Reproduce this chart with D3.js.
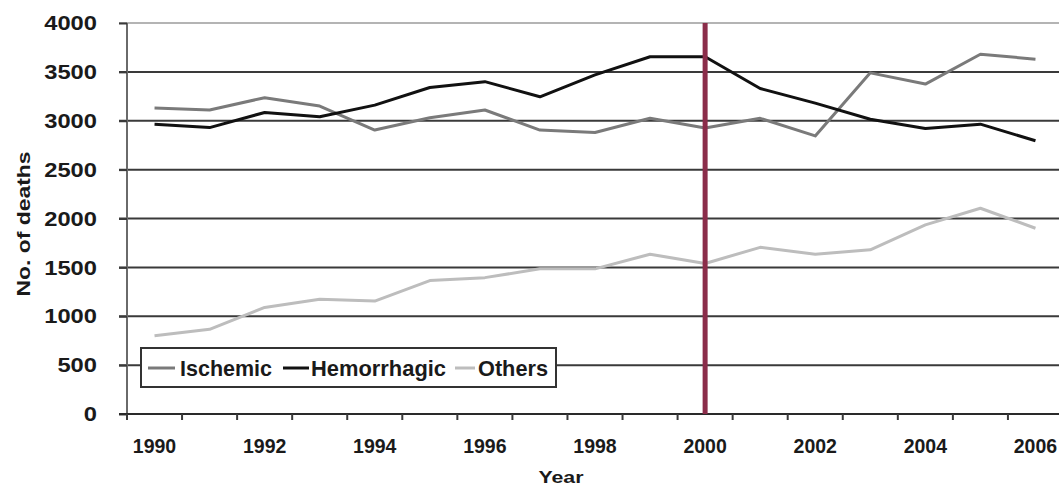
<!DOCTYPE html>
<html>
<head>
<meta charset="utf-8">
<script src="https://cdn.jsdelivr.net/npm/d3@7"></script>
<style>
  html, body { margin: 0; padding: 0; background: #fff; }
  svg { display: block; font-family: "Liberation Sans", Arial, sans-serif; font-weight: bold; }
</style>
</head>
<body>
<svg id="chart"></svg>
<script>
// data
var years = [1990, 1991, 1992, 1993, 1994, 1995, 1996, 1997, 1998, 1999, 2000, 2001, 2002, 2003, 2004, 2005, 2006];
var ischemic = [3130, 3110, 3236, 3150, 2905, 3030, 3110, 2905, 2880, 3025, 2925, 3025, 2845, 3490, 3375, 3680, 3630];
var hemorrhagic = [2965, 2930, 3085, 3040, 3160, 3340, 3400, 3245, 3470, 3655, 3655, 3330, 3180, 3015, 2920, 2965, 2795];
var others = [800, 866, 1090, 1175, 1155, 1365, 1395, 1485, 1485, 1635, 1540, 1705, 1635, 1680, 1935, 2105, 1900];
var yTicks = [0, 500, 1000, 1500, 2000, 2500, 3000, 3500, 4000];
var xLabels = [1990, 1992, 1994, 1996, 1998, 2000, 2002, 2004, 2006];
var markerYear = 2000;

var width = 1059;
var height = 485;

var svg = d3.select("#chart")
  .attr("width", width)
  .attr("height", height);

// plot area runs a little past the right edge (the source was cropped)
var x = d3.scaleBand()
  .domain(years)
  .range([127, 1063])
  .padding(0);

var y = d3.scaleLinear()
  .domain([0, 4000])
  .range([414, 23]);

// gridlines
svg.append("g")
  .selectAll("line")
  .data(yTicks.filter(function (d) { return d > 0; }))
  .enter()
  .append("line")
  .attr("x1", 119)
  .attr("x2", width)
  .attr("y1", function (d) { return y(d); })
  .attr("y2", function (d) { return y(d); })
  .attr("stroke", function (d) { return d == 4000 ? "#b4b4b4" : "#3a3a3a"; })
  .attr("stroke-width", 2);

// y axis
var yAxis = d3.axisLeft(y)
  .tickValues(yTicks)
  .tickFormat(d3.format("d"))
  .tickSize(8)
  .tickPadding(22);
var gy = svg.append("g")
  .attr("transform", "translate(127,0)")
  .call(yAxis);
gy.select(".domain").attr("stroke", "#6a6a6a").attr("stroke-width", 2)
  .attr("d", "M0," + y(4000) + "V" + (y(0) + 6));
gy.selectAll(".tick line").attr("stroke", "#3a3a3a").attr("stroke-width", 2);
// the source digits are a bit wider than the font, so stretch them
gy.selectAll(".tick text")
  .attr("fill", "#1a1a1a")
  .attr("textLength", function (d) { return String(d).length * 13.2; })
  .attr("lengthAdjust", "spacingAndGlyphs")
  .style("font-size", "21px")
  .style("font-weight", "bold")
  .style("font-family", "'Liberation Sans', Arial, sans-serif");

// x axis: baseline, boundary ticks, labels at the band centres
var gx = svg.append("g");
gx.append("line")
  .attr("x1", 119)
  .attr("x2", width)
  .attr("y1", y(0))
  .attr("y2", y(0))
  .attr("stroke", "#2a2a2a")
  .attr("stroke-width", 2);
var bounds = years.map(function (d) { return x(d); }).concat([x.range()[1]]);
gx.selectAll(".xtick")
  .data(bounds)
  .enter()
  .append("line")
  .attr("class", "xtick")
  .attr("x1", function (d) { return d; })
  .attr("x2", function (d) { return d; })
  .attr("y1", y(0))
  .attr("y2", y(0) + 6)
  .attr("stroke", "#3a3a3a")
  .attr("stroke-width", 2);
gx.selectAll(".xlabel")
  .data(xLabels)
  .enter()
  .append("text")
  .attr("class", "xlabel")
  .attr("x", function (d) { return x(d) + x.bandwidth() / 2; })
  .attr("y", 453)
  .attr("text-anchor", "middle")
  .attr("fill", "#1a1a1a")
  .style("font-size", "19.5px")
  .text(function (d) { return d; });

// axis titles
svg.append("text")
  .attr("transform", "translate(30,224) rotate(-90)")
  .attr("text-anchor", "middle")
  .attr("fill", "#1a1a1a")
  .attr("textLength", 145)
  .attr("lengthAdjust", "spacingAndGlyphs")
  .style("font-size", "19px")
  .text("No. of deaths");

svg.append("text")
  .attr("x", 561)
  .attr("y", 483)
  .attr("text-anchor", "middle")
  .attr("fill", "#1a1a1a")
  .attr("textLength", 45)
  .attr("lengthAdjust", "spacingAndGlyphs")
  .style("font-size", "16px")
  .text("Year");

// series lines
var series = [
  { name: "Ischemic", values: ischemic, color: "#7a7a7a" },
  { name: "Hemorrhagic", values: hemorrhagic, color: "#111111" },
  { name: "Others", values: others, color: "#bdbdbd" }
];

var line = d3.line()
  .x(function (d, i) { return x(years[i]) + x.bandwidth() / 2; })
  .y(function (d) { return y(d); });

svg.append("g")
  .selectAll("path")
  .data(series)
  .enter()
  .append("path")
  .attr("d", function (d) { return line(d.values); })
  .attr("fill", "none")
  .attr("stroke", function (d) { return d.color; })
  .attr("stroke-width", 3)
  .attr("stroke-linejoin", "round");

// marker line at 2000
svg.append("line")
  .attr("x1", x(markerYear) + x.bandwidth() / 2)
  .attr("x2", x(markerYear) + x.bandwidth() / 2)
  .attr("y1", y(4000))
  .attr("y2", y(0))
  .attr("stroke", "#8b2d4a")
  .attr("stroke-width", 5);

// legend
var lg = svg.append("g");
lg.append("rect")
  .attr("x", 141)
  .attr("y", 348)
  .attr("width", 415)
  .attr("height", 39)
  .attr("fill", "#fff")
  .attr("stroke", "#333")
  .attr("stroke-width", 2);

var legendPos = [
  { x1: 148, x2: 175, tx: 180, len: 92 },
  { x1: 283, x2: 309, tx: 311, len: 135 },
  { x1: 455, x2: 475, tx: 478, len: 70 }
];
series.forEach(function (s, i) {
  var p = legendPos[i];
  lg.append("line")
    .attr("x1", p.x1)
    .attr("x2", p.x2)
    .attr("y1", 368)
    .attr("y2", 368)
    .attr("stroke", s.color)
    .attr("stroke-width", 3);
  lg.append("text")
    .attr("x", p.tx)
    .attr("y", 375.5)
    .attr("fill", "#1a1a1a")
    .attr("textLength", p.len)
    .attr("lengthAdjust", "spacingAndGlyphs")
    .style("font-size", "21.5px")
    .text(s.name);
});
</script>
</body>
</html>
